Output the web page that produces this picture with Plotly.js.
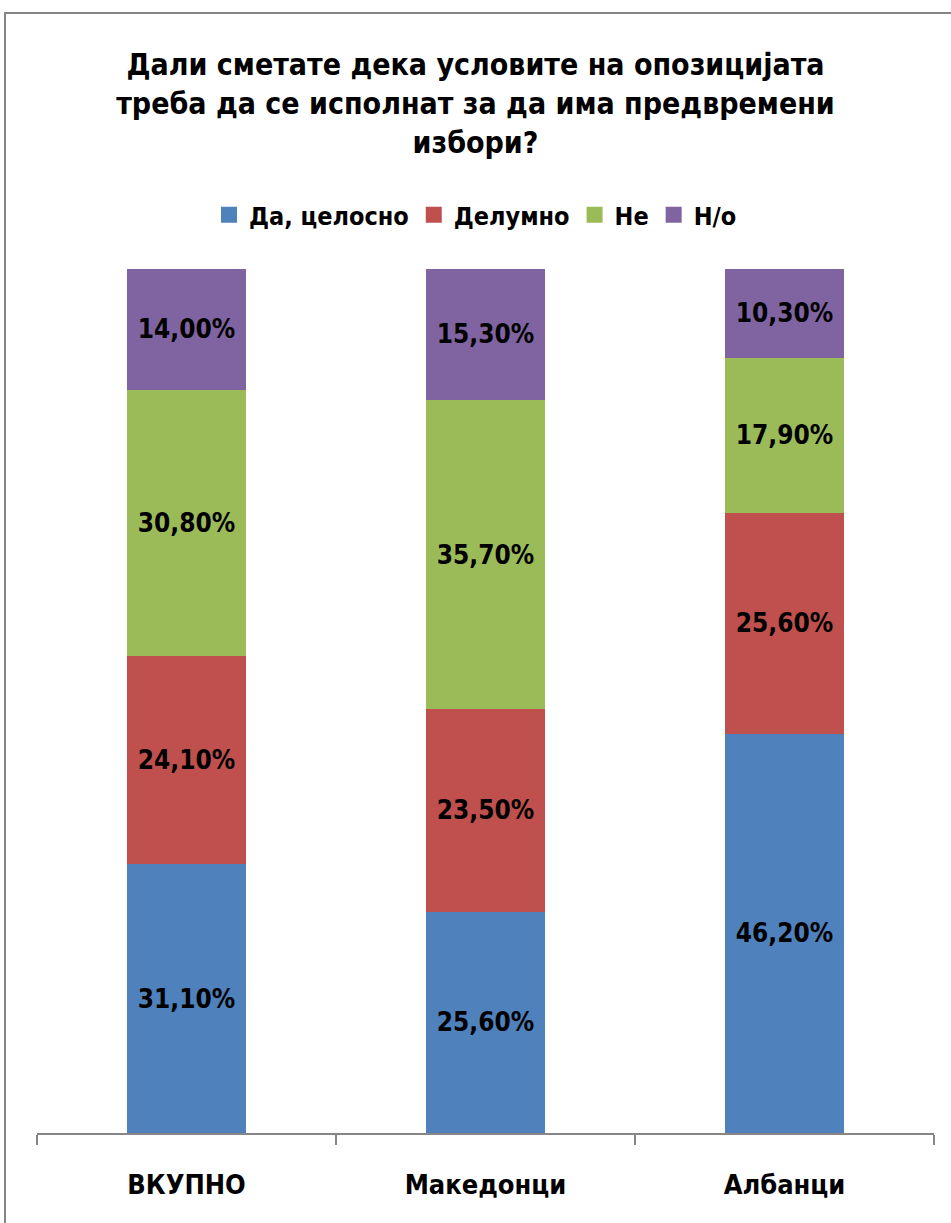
<!DOCTYPE html>
<html>
<head>
<meta charset="utf-8">
<script src="https://cdn.plot.ly/plotly-3.0.1.min.js"></script>
<style>
  html, body { margin: 0; padding: 0; background: #fff; }
  #chart { width: 951px; height: 1223px; }
  #frame { position: absolute; left: 4px; top: 12px; width: 960px; height: 1230px;
           border: 2px solid #868686; pointer-events: none; box-sizing: border-box; }
</style>
</head>
<body>
<div id="chart"></div>
<div id="frame"></div>
<script>
const categories = ["ВКУПНО", "Македонци", "Албанци"];
const seriesNames = ["Да, целосно", "Делумно", "Не", "Н/о"];
const daCelosno = [31.1, 25.6, 46.2];
const delumno   = [24.1, 23.5, 25.6];
const ne        = [30.8, 35.7, 17.9];
const no        = [14.0, 15.3, 10.3];
const colors = ["#4F81BD", "#C0504D", "#9BBB59", "#8064A2"];

const FONT = "'Liberation Sans Narrow', 'DejaVu Sans Condensed', sans-serif";
const fmt = v => v.toFixed(2).replace('.', ',') + '%';

const allSeries = [daCelosno, delumno, ne, no];
const traces = allSeries.map((vals, i) => ({
  type: 'bar',
  name: seriesNames[i],
  legendgroup: seriesNames[i],
  showlegend: false,
  x: categories,
  y: vals,
  text: vals.map(fmt),
  texttemplate: '%{text}',
  textposition: 'inside',
  insidetextanchor: 'middle',
  textangle: 0,
  constraintext: 'none',
  textfont: { family: FONT, size: 26, color: '#000', weight: 'bold' },
  marker: { color: colors[i], line: { width: 0 } },
  hoverinfo: 'skip'
}));

// legend entries with square swatches (no visible data)
const legendTraces = seriesNames.map((n, i) => ({
  type: 'scatter',
  mode: 'markers',
  name: n,
  legendgroup: n,
  x: [null],
  y: [null],
  marker: { symbol: 'square', size: 16, color: colors[i] },
  hoverinfo: 'skip'
}));

const layout = {
  width: 951,
  height: 1223,
  margin: { l: 37, r: 17, t: 269, b: 90 },
  paper_bgcolor: '#fff',
  plot_bgcolor: '#fff',
  barmode: 'stack',
  bargap: 0.6,
  font: { family: FONT, color: '#000' },
  title: {
    text: 'Дали сметате дека условите на опозицијата<br>треба да се исполнат за да има предвремени<br>избори?',
    font: { family: FONT, size: 30, color: '#000', weight: 'bold' },
    x: 0.5, xanchor: 'center',
    y: 1 - 75 / 1223, yref: 'container', yanchor: 'top'
  },
  showlegend: true,
  legend: {
    orientation: 'h',
    x: 0.5, xanchor: 'center', xref: 'container',
    y: 1 - 215 / 1223, yanchor: 'middle', yref: 'container',
    traceorder: 'normal',
    font: { family: FONT, size: 25, color: '#000', weight: 'bold' },
    itemwidth: 20,
    tracegroupgap: 0
  },
  xaxis: {
    type: 'category',
    showline: true,
    linecolor: '#868686',
    linewidth: 1.5,
    ticks: 'outside',
    tickson: 'boundaries',
    ticklen: 10,
    tickcolor: '#868686',
    tickwidth: 1.5,
    showgrid: false,
    tickfont: { family: FONT, size: 27, color: '#000', weight: 'bold' },
    ticklabelstandoff: 27
  },
  yaxis: {
    range: [0, 100],
    visible: false,
    showgrid: false,
    zeroline: false
  }
};

Plotly.newPlot('chart', traces.concat(legendTraces), layout, { displayModeBar: false, staticPlot: true });
</script>
</body>
</html>
